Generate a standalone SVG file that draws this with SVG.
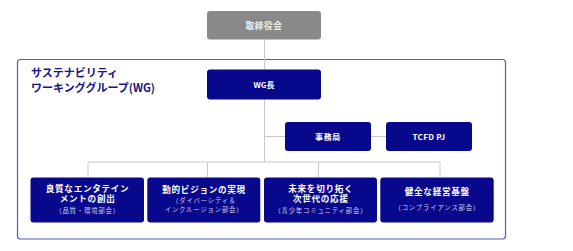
<svg xmlns="http://www.w3.org/2000/svg" width="573" height="251" viewBox="0 0 573 251">
<style>
text{font-family:"Noto Sans CJK JP","Noto Sans",sans-serif;text-anchor:middle}
.n{fill:#08088c}
.t{fill:#ffffff;font-weight:bold;font-size:8.6px;letter-spacing:0.7px}
.s{fill:#d0d0e8;font-size:6.4px;letter-spacing:0.8px}
.b .t,.b .s{font-family:"Liberation Sans","Noto Sans CJK JP",sans-serif}
.c{stroke:#c8c8c8;stroke-width:1;fill:none}
.h{font-weight:bold;font-size:11px;fill:#14148a;text-anchor:start}
</style>
<rect x="17.5" y="59.5" width="488" height="179.5" rx="3" fill="#ffffff" stroke="#5a5ac0" stroke-width="1.2"/>
<text class="h" x="31" y="77"><tspan x="31" y="77">サステナビリティ</tspan><tspan x="31" y="92">ワーキンググループ(WG)</tspan></text>
<g id="connectors">
<path class="c" d="M264.5 39V162"/>
<path class="c" d="M264.5 136.5H285M371 136.5H386"/>
<path class="c" d="M88 177V162H440V177M207.5 162V177M318.5 162V177"/>
</g>
<g id="board"><rect x="207" y="11" width="114" height="28.5" rx="3" fill="#898989"/><text class="t" x="264" y="28.5" style="fill:#f0f0f0">取締役会</text></g>
<g id="wg-leader"><rect class="n" x="207" y="69.5" width="114" height="30" rx="3"/><text class="t" x="264" y="87.5" style="font-size:8px;letter-spacing:0">WG長</text></g>
<g id="secretariat"><rect class="n" x="285" y="122" width="86" height="29" rx="3"/><text class="t" x="328" y="139.5" style="font-size:8px">事務局</text></g>
<g id="tcfd"><rect class="n" x="386" y="122" width="86" height="29" rx="3"/><text class="t" x="429" y="139.5" style="font-size:8px;letter-spacing:0.3px">TCFD PJ</text></g>
<g id="quality" class="b"><rect class="n" x="30.5" y="177.5" width="113.5" height="45" rx="3"/><text class="t"><tspan x="87.6" y="192.4">良質なエンタテイン</tspan><tspan x="87.6" y="202.1">メントの創出</tspan></text><text class="s" x="87.6" y="212.6">（品質・環境部会）</text></g>
<g id="diversity" class="b"><rect class="n" x="147.3" y="177.5" width="113" height="45" rx="3"/><text class="t" x="204.1" y="192.6">動的ビジョンの実現</text><text class="s"><tspan x="204.1" y="202.5">（ダイバーシティ＆</tspan><tspan x="204.1" y="212">インクルージョン部会）</tspan></text></g>
<g id="youth" class="b"><rect class="n" x="264" y="177.5" width="113" height="45" rx="3"/><text class="t"><tspan x="320.8" y="192.4">未来を切り拓く</tspan><tspan x="320.8" y="202.1">次世代の応援</tspan></text><text class="s" x="320.8" y="212.6">（青少年コミュニティ部会）</text></g>
<g id="compliance" class="b"><rect class="n" x="380.3" y="177.5" width="113.4" height="45" rx="3"/><text class="t" x="437.3" y="194.5">健全な経営基盤</text><text class="s" x="437.3" y="210">（コンプライアンス部会）</text></g>
</svg>
